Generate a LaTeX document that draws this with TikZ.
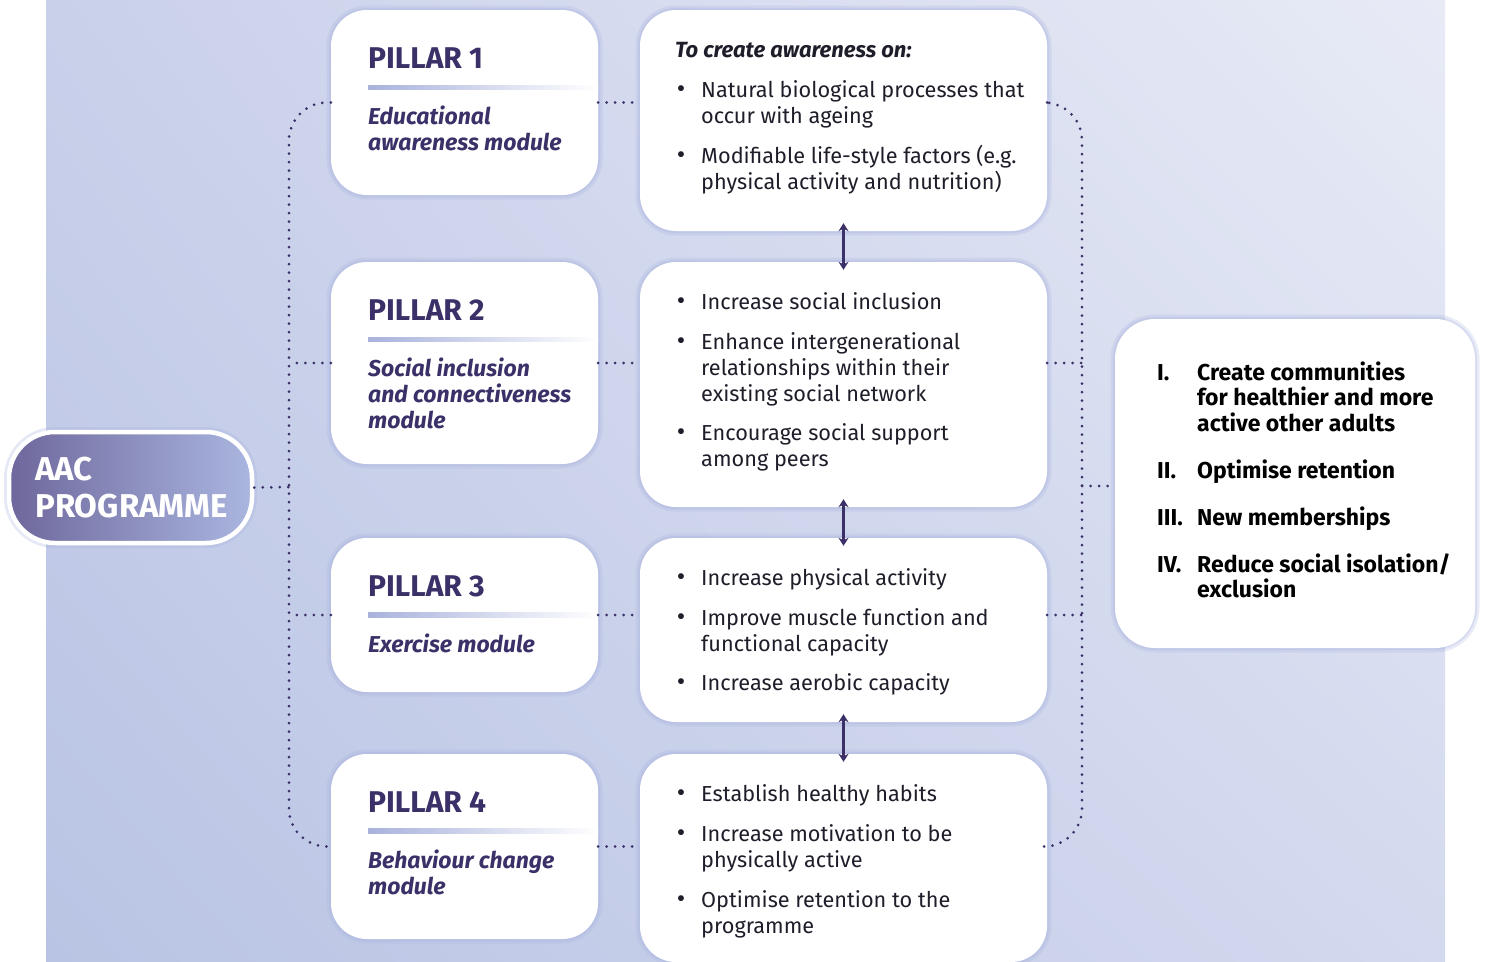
\documentclass[tikz,border=0pt]{standalone}
\usepackage{fontspec}
\setmainfont{Fira Sans}
\usetikzlibrary{arrows.meta,calc,shadings}
\definecolor{bgTL}{HTML}{C9D0EA}
\definecolor{bgTR}{HTML}{E8EBF6}
\definecolor{bgBL}{HTML}{B9C4E4}
\definecolor{bgBR}{HTML}{D3D9EE}
\definecolor{purp}{HTML}{3B3068}
\definecolor{ink}{HTML}{1E1E2A}
\definecolor{glow}{HTML}{A9B3DF}
\definecolor{aacL}{HTML}{6E679C}
\definecolor{aacR}{HTML}{AAB6E0}
\definecolor{rule}{HTML}{A8B2DC}
\tikzset{
  card/.style={fill=white, rounded corners=36pt, inner sep=0pt,
    preaction={draw=glow, line width=9pt, opacity=0.25},
    preaction={draw=glow, line width=4pt, opacity=0.3}},
  ptitle/.style={anchor=base west, inner sep=0pt, text=purp, font=\fontsize{30}{34}\selectfont\bfseries},
  psub/.style={anchor=base west, inner sep=0pt, text=purp, font=\fontsize{23}{26}\selectfont\bfseries\itshape},
  item/.style={anchor=base west, inner sep=0pt, text=ink, font=\fontsize{21.7}{26}\selectfont},
  goalitem/.style={anchor=base west, inner sep=0pt, text=black, font=\fontsize{23}{25.5}\selectfont\bfseries},
  dotline/.style={draw=purp, line width=3pt, line cap=round, dash pattern=on 0pt off 8.5pt},
  twoway/.style={draw=purp, line width=2.6pt, {Stealth[length=8pt,width=10pt]}-{Stealth[length=8pt,width=10pt]}, shorten <=-8pt, shorten >=-8pt}
}
\newcommand\bul{\llap{\raisebox{0pt}{\fontsize{26}{26}\selectfont•}\hskip 16pt}}
\newcommand\twol[2]{\vtop{\hbox{#1}\hbox{#2}}}
\newcommand\threel[3]{\vtop{\hbox{#1}\hbox{#2}\hbox{#3}}}
\begin{document}
\begin{tikzpicture}[x=1pt,y=-1pt]
\useasboundingbox (0,0) rectangle (1487,961);
\shade[upper left=bgTL, upper right=bgTR, lower left=bgBL, lower right=bgBR] (46,0) rectangle (1445,961);

% AAC programme
\node[shade, left color=aacL, right color=aacR, draw=white, line width=4.5pt, rounded corners=46pt,
  minimum width=243pt, minimum height=111pt, inner sep=0pt,
  preaction={draw=glow, line width=10pt, opacity=0.3}] (aac) at (130.5,487.5) {};
\node[anchor=base west, inner sep=0pt, text=white, font=\fontsize{33}{37}\selectfont\bfseries] (aact) at (35,480)
  {\vtop{\baselineskip=37pt\hbox{AAC}\hbox{PROGRAMME}}};

% pillar cards
\node[card, minimum width=267pt, minimum height=185pt] (p1) at (464.5,102.5) {};
\node[card, minimum width=267pt, minimum height=202pt] (p2) at (464.5,363) {};
\node[card, minimum width=267pt, minimum height=154pt] (p3) at (464.5,615) {};
\node[card, minimum width=267pt, minimum height=185pt] (p4) at (464.5,846.5) {};

% middle cards
\node[card, minimum width=407pt, minimum height=221pt] (m1) at (843.5,120.5) {};
\node[card, minimum width=407pt, minimum height=245pt] (m2) at (843.5,384.5) {};
\node[card, minimum width=407pt, minimum height=184pt] (m3) at (843.5,630) {};
\node[card, minimum width=407pt, minimum height=208pt] (m4) at (843.5,858) {};

% goal card
\node[card, rounded corners=40pt, minimum width=360pt, minimum height=329pt] (goal) at (1295,483.5) {};

% pillar texts
\node[ptitle] (p1t) at (368,68) {PILLAR 1};
\node[ptitle] (p2t) at (368,320) {PILLAR 2};
\node[ptitle] (p3t) at (368,596) {PILLAR 3};
\node[ptitle] (p4t) at (368,812) {PILLAR 4};
\shade[left color=rule, right color=white] (368,85) rectangle (598,89.5);
\shade[left color=rule, right color=white] (368,337) rectangle (598,341.5);
\shade[left color=rule, right color=white] (368,612.5) rectangle (598,617);
\shade[left color=rule, right color=white] (368,828.5) rectangle (598,833);
\node[psub] (p1s) at (368,124) {\twol{Educational}{awareness module}};
\node[psub] (p2s) at (368,376) {\threel{Social inclusion}{and connectiveness}{module}};
\node[psub] (p3s) at (368,652) {Exercise module};
\node[psub] (p4s) at (368,868) {\twol{Behaviour change}{module}};

% middle texts
\node[item, font=\fontsize{22}{26}\selectfont\bfseries\itshape] (m1h) at (675,57) {To create awareness on:};
\node[item] (m1a) at (701,97) {\bul\twol{Natural biological processes that}{occur with ageing}};
\node[item] (m1b) at (701,163) {\bul\twol{Modifiable life-style factors (e.g.}{physical activity and nutrition)}};

\node[item] (m2a) at (701,309) {\bul Increase social inclusion};
\node[item] (m2b) at (701,349) {\bul\threel{Enhance intergenerational}{relationships within their}{existing social network}};
\node[item] (m2c) at (701,440) {\bul\twol{Encourage social support}{among peers}};

\node[item] (m3a) at (701,585) {\bul Increase physical activity};
\node[item] (m3b) at (701,625) {\bul\twol{Improve muscle function and}{functional capacity}};
\node[item] (m3c) at (701,690) {\bul Increase aerobic capacity};

\node[item] (m4a) at (701,801) {\bul Establish healthy habits};
\node[item] (m4b) at (701,841) {\bul\twol{Increase motivation to be}{physically active}};
\node[item] (m4c) at (701,907) {\bul\twol{Optimise retention to the}{programme}};

% goals
\node[goalitem] (g1) at (1197,380) {\llap{\hbox to 40pt{I.\hfil}}\threel{Create communities}{for healthier and more}{active other adults}};
\node[goalitem] (g2) at (1197,478) {\llap{\hbox to 40pt{II.\hfil}}Optimise retention};
\node[goalitem] (g3) at (1197,525) {\llap{\hbox to 40pt{III.\hfil}}New memberships};
\node[goalitem] (g4) at (1197,572) {\llap{\hbox to 40pt{IV.\hfil}}\twol{Reduce social isolation/}{exclusion}};

% arrows
\draw[twoway] (m1.south) -- (m2.north);
\draw[twoway] (m2.south) -- (m3.north);
\draw[twoway] (m3.south) -- (m4.north);

% dotted connectors
\coordinate (lb) at (289,487);
\coordinate (rb) at (1082,486);
\draw[dotline, rounded corners=38pt] (p1.west) -| (lb) |- (p4.west);
\draw[dotline] (p2.west) -- (p2.west -| lb);
\draw[dotline] (p3.west) -- (p3.west -| lb);
\draw[dotline] (aac.east) -- (lb);
\draw[dotline] (p1.east) -- (p1.east -| m1.west);
\draw[dotline] (p2.east) -- (p2.east -| m2.west);
\draw[dotline] (p3.east) -- (p3.east -| m3.west);
\draw[dotline] (p4.east) -- (p4.east -| m4.west);
\draw[dotline, rounded corners=38pt] (p1.east -| m1.east) -| (rb) |- (p4.east -| m4.east);
\draw[dotline] (p2.east -| m2.east) -- (p2.east -| rb);
\draw[dotline] (p3.east -| m3.east) -- (p3.east -| rb);
\draw[dotline] (rb) -- (goal.west |- rb);
\end{tikzpicture}
\end{document}
